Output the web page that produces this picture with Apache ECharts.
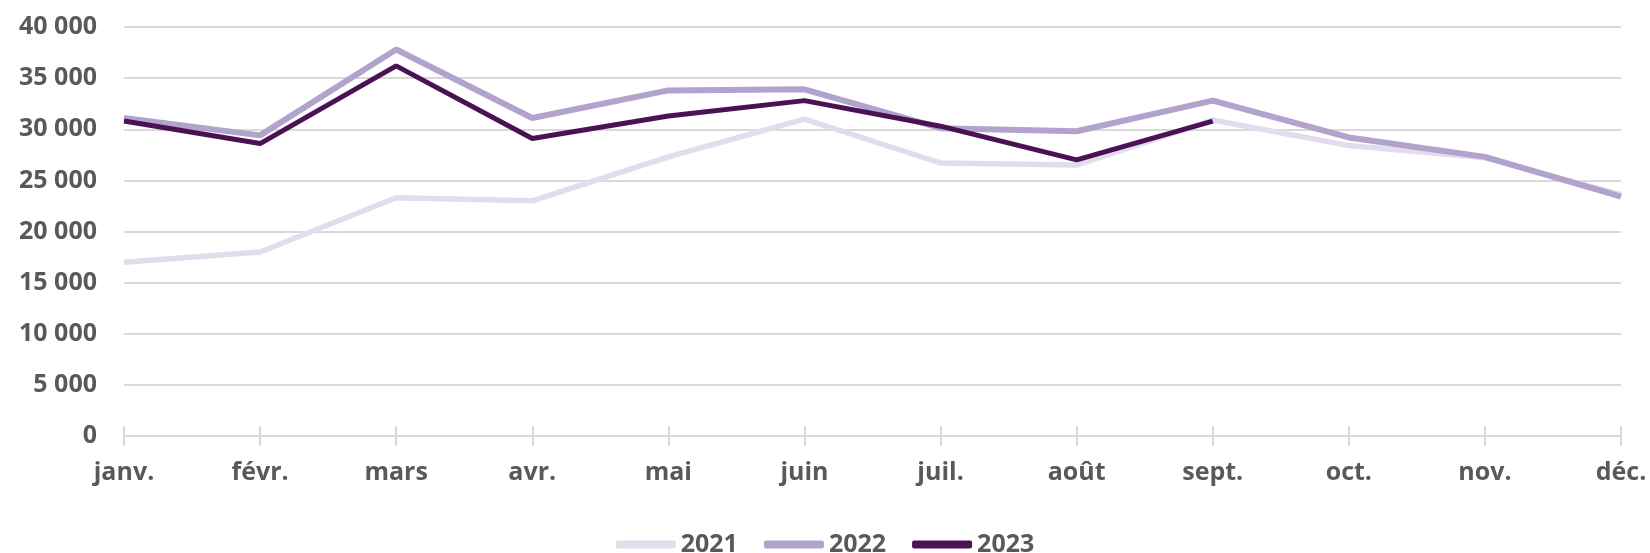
<!DOCTYPE html>
<html>
<head>
<meta charset="utf-8">
<script src="https://cdn.jsdelivr.net/npm/echarts@6/dist/echarts.min.js"></script>
<style>
    html, body { margin: 0; padding: 0; background: #fff; }
    #chart { width: 1650px; height: 553px; }
</style>
</head>
<body>
<div id="chart"></div>
<script>
var months = ['janv.', 'févr.', 'mars', 'avr.', 'mai', 'juin', 'juil.', 'août', 'sept.', 'oct.', 'nov.', 'déc.'];
var years = ['2021', '2022', '2023'];
var v2021 = [17000, 18000, 23300, 23000, 27300, 31000, 26700, 26500, 30900, 28400, 27200, 23600];
var v2022 = [31100, 29400, 37800, 31100, 33800, 33900, 30100, 29800, 32800, 29200, 27300, 23400];
var v2023 = [30800, 28600, 36200, 29100, 31300, 32800, 30300, 27000, 30800];

var colors = ['#e2dcec', '#b1a3cb', '#4b1155'];
var textColor = '#595959';
var gridColor = '#d9d9d9';

function fmt(v) {
    return String(v).replace(/\B(?=(\d{3})+(?!\d))/g, ' ');
}

var chart = echarts.init(document.getElementById('chart'));
var font = {color: textColor, fontFamily: 'Open Sans', fontWeight: 'bold', fontSize: 25};

var option = {
    animation: false,
    color: colors,
    grid: {left: 124, right: 29, top: 27, bottom: 117},
    legend: {
        data: years,
        top: 527,
        left: 'center',
        icon: 'roundRect',
        itemWidth: 60,
        itemHeight: 8,
        itemGap: 26,
        textStyle: font
    },
    xAxis: [
        {
            type: 'category',
            data: months,
            boundaryGap: false,
            axisLine: {lineStyle: {color: gridColor, width: 2}},
            axisTick: {show: true, length: 10, lineStyle: {color: gridColor, width: 2}},
            axisLabel: Object.assign({margin: 24}, font)
        },
        {
            // ticks crossing the axis upwards
            type: 'category',
            data: months,
            position: 'bottom',
            boundaryGap: false,
            axisLine: {show: false},
            axisTick: {show: true, inside: true, length: 10, lineStyle: {color: gridColor, width: 2}},
            axisLabel: {show: false}
        }
    ],
    yAxis: {
        type: 'value',
        min: 0,
        max: 40000,
        interval: 5000,
        axisLine: {show: false},
        axisTick: {show: false},
        splitLine: {lineStyle: {color: gridColor, width: 2}},
        axisLabel: Object.assign({margin: 27, formatter: fmt}, font)
    },
    series: [
        {name: '2021', type: 'line', data: v2021, symbol: 'none', lineStyle: {width: 5.5, color: colors[0]}},
        {name: '2022', type: 'line', data: v2022, symbol: 'none', lineStyle: {width: 6, color: colors[1]}},
        {name: '2023', type: 'line', data: v2023, symbol: 'none', lineStyle: {width: 5, color: colors[2]}}
    ]
};

chart.setOption(option);
</script>
</body>
</html>
